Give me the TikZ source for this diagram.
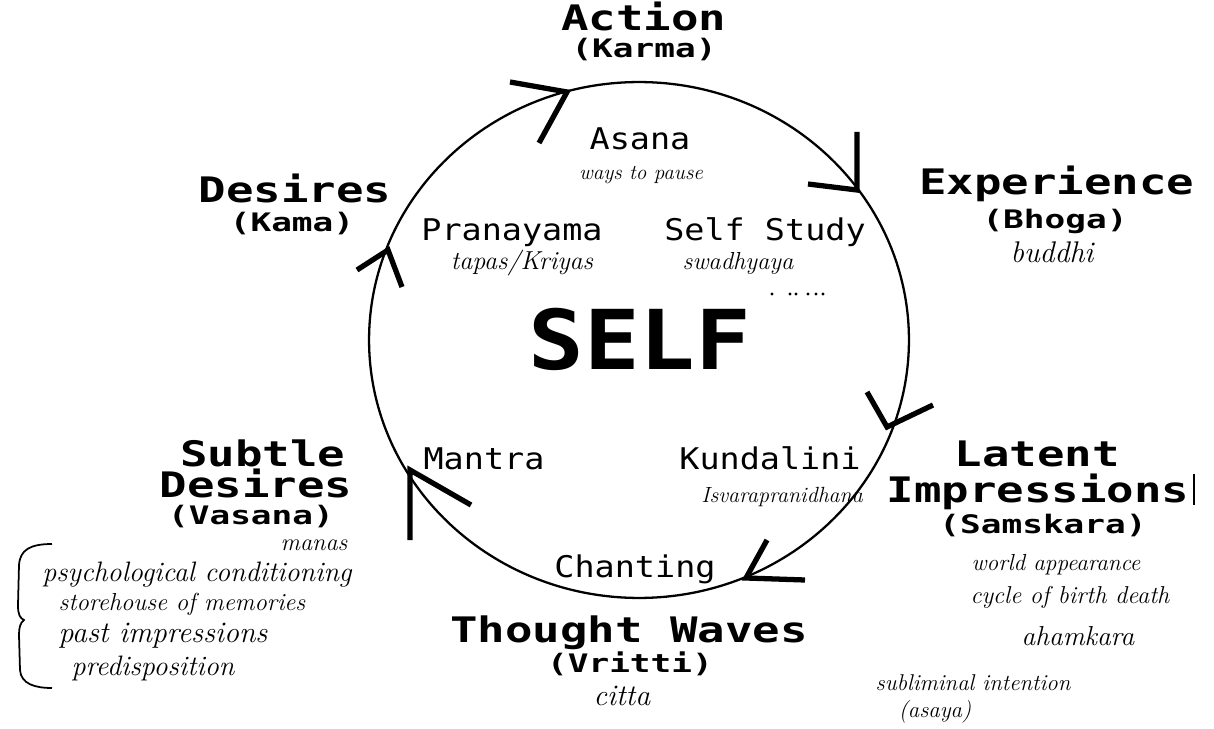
\documentclass[tikz,border=0pt]{standalone}
\usepackage{fontspec}
\usepackage{graphicx}
\newfontfamily\pix[FakeStretch=1.12]{DejaVu Sans Mono}
\newfontfamily\pixbig[FakeStretch=1.3]{DejaVu Sans Mono}
\newfontfamily\pixsub[FakeStretch=1.35]{DejaVu Sans Mono}
\tikzset{
  bigl/.style={anchor=base, inner sep=0pt, font=\pixbig\bfseries\fontsize{20}{20}\selectfont},
  subl/.style={anchor=base, inner sep=0pt, font=\pixsub\bfseries\fontsize{14.5}{14.5}\selectfont},
  lbl/.style={anchor=base, inner sep=0pt, font=\pix\fontsize{17}{17}\selectfont},
  hand/.style={anchor=base, inner sep=0pt, font=\itshape\fontsize{#1}{#1}\selectfont},
  ring/.style={line width=1.3pt},
  vtip/.style={line width=3pt, line cap=square, line join=miter},
}
\begin{document}
\begin{tikzpicture}[x=0.02cm,y=-0.02cm]
\useasboundingbox[fill=white] (0,0) rectangle (1214,729);

% ring
\coordinate (c) at (639,340);
\draw[ring] (c) ellipse [x radius=5.4cm, y radius=5.16cm];

% arrowheads on the ring (clockwise)
\coordinate (t1) at (567,92);  \coordinate (a1) at (510,82);  \coordinate (b1) at (539,143);
\coordinate (t2) at (857,190); \coordinate (a2) at (857,132); \coordinate (b2) at (808,184);
\coordinate (t3) at (887,427); \coordinate (a3) at (867,392); \coordinate (b3) at (933,405);
\coordinate (t4) at (746,578); \coordinate (a4) at (767,540); \coordinate (b4) at (805,580);
\coordinate (t5) at (410,470); \coordinate (a5) at (410,540); \coordinate (b5) at (471,505);
\coordinate (t6) at (388,250); \coordinate (a6) at (357,270); \coordinate (b6) at (402,287);
\foreach \i in {1,...,6} \draw[vtip] (a\i) -- (t\i) -- (b\i);

% outer stages
\node[bigl] (action) at (644,31) {Action};
\node[subl] (karma) at (644,58) {(Karma)};
\node[bigl] (exp) at (1057,195) {Experience};
\node[subl] (bhoga) at (1055,229) {(Bhoga)};
\node[hand=17] (buddhi) at (1052,263) {buddhi};
\node[bigl] (des) at (295,203) {Desires};
\node[subl] (kama) at (292,232) {(Kama)};
\node[bigl] (latent) at (1037,467) {Latent};
\node[bigl] (impr) at (1038,502) {Impressions};
\draw[line width=1.6pt] (1194,474) -- (1194,505);
\node[subl] (samsk) at (1043,533) {(Samskara)};
\node[hand=13.2] (world) at (1056,570) {world appearance};
\node[hand=13.9] (cycle) at (1070,603) {cycle of birth death};
\node[hand=15.6] (aham) at (1078,645) {ahamkara};
\node[hand=13] (sublim) at (973,690) {subliminal intention};
\node[hand=13] (asaya) at (935,717) {(asaya)};
\node[bigl] (subtle) at (263,466) {Subtle};
\node[bigl] (des2) at (256,498) {Desires};
\node[subl] (vasana) at (251,524) {(Vasana)};
\node[hand=13.8] (manas) at (314,550) {manas};
\node[bigl] (thought) at (629,642) {Thought Waves};
\node[subl] (vritti) at (630,672) {(Vritti)};
\node[hand=17] (citta) at (622,705) {citta};

% inner practices
\node[lbl] (asana) at (640,150) {Asana};
\node[hand=12] (pause) at (641,180) {ways to pause};
\node[lbl] (prana) at (512,241) {Pranayama};
\node[hand=14.8] (tapas) at (522,270) {tapas/Kriyas};
\node[lbl] (study) at (765,241) {Self Study};
\node[hand=14] (swad) at (738,270) {swadhyaya};
\node[anchor=base, inner sep=0pt, font=\pix\bfseries\fontsize{47}{47}\selectfont] (self) at (640,370) {SELF};
\node[lbl] (mantra) at (484,470) {Mantra};
\node[lbl] (kund) at (770,470) {Kundalini};
\node[hand=12.5] (isv) at (782,502) {Isvarapranidhana};
\node[lbl] (chant) at (635,577) {Chanting};

% stray dots
\foreach \x in {772,790,796,808,816,823} \fill (\x,294) circle (0.9pt);

% left notes with brace
\draw[line width=1pt] (52,544) .. controls (30,544) and (20,550) .. (19,565) -- (18,605) .. controls (18,615) and (20,618) .. (24,620) .. controls (20,623) and (19,628) .. (19,635) -- (20,670) .. controls (21,684) and (35,688) .. (52,688);
\node[hand=16] (psy) at (197,581) {psychological conditioning};
\node[hand=14] (store) at (182,610) {storehouse of memories};
\node[hand=17] (past) at (163,642) {past impressions};
\node[hand=16] (pred) at (153,675) {predisposition};
\end{tikzpicture}
\end{document}
